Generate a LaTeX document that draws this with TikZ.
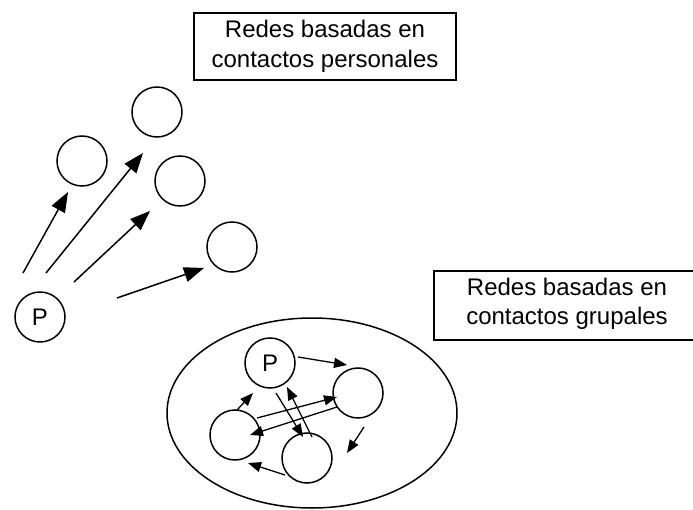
\documentclass[tikz,border=0pt]{standalone}
\usepackage{fontspec}
\setmainfont{Liberation Sans}
\usetikzlibrary{arrows.meta,shapes.geometric}
\begin{document}
\begin{tikzpicture}[x=1pt,y=-1pt,
  every node/.style={font=\fontsize{24}{29.5}\selectfont},
  pers/.style={draw,circle,line width=1.5pt,minimum size=50pt,inner sep=0pt},
  label box/.style={draw,line width=1.5pt,align=center,inner sep=0pt},
  bigarrow/.style={line width=1.5pt,-{Triangle[length=20pt,width=15pt]}},
  smallarrow/.style={line width=1.3pt,-{Triangle[length=13pt,width=10pt]}}]
\useasboundingbox (0,0) rectangle (693,510);
\clip (0,0) rectangle (693,510);
% labels
\node[label box,minimum width=262pt,minimum height=67pt] (lbl1) at (325,46.5) {Redes basadas en\\contactos personales};
\node[label box,minimum width=266pt,minimum height=69pt,anchor=west] (lbl2) at (433,305.5) {};
\node[align=center] (lbl2t) at (567,304) {Redes basadas en\\contactos grupales};
% personal contacts
\node[pers] (p) at (40,317) {P};
\node[pers] (a) at (82,161) {};
\node[pers] (b) at (157,112) {};
\node[pers] (c) at (180,181) {};
\node[pers] (d) at (232,247) {};
\coordinate (s1) at (23,273); \coordinate (e1) at (68,192);
\coordinate (s2) at (46,273); \coordinate (e2) at (143,153);
\coordinate (s3) at (74,282); \coordinate (e3) at (150,211);
\coordinate (s4) at (117,298); \coordinate (e4) at (204,268);
\draw[bigarrow] (s1) -- (e1);
\draw[bigarrow] (s2) -- (e2);
\draw[bigarrow] (s3) -- (e3);
\draw[bigarrow] (s4) -- (e4);
% group
\node[draw,ellipse,line width=1.5pt,minimum width=290pt,minimum height=190pt,inner sep=0pt] (grp) at (312,413) {};
\node[pers] (gp) at (270,363) {P};
\node[pers] (gr) at (358,393) {};
\node[pers] (gl) at (235,435) {};
\node[pers] (gb) at (307,458) {};
\coordinate (ga1) at (298,357); \coordinate (gb1) at (347,365);
\coordinate (ga2) at (364,427); \coordinate (gb2) at (347,453);
\coordinate (ga3) at (285,475); \coordinate (gb3) at (248,463);
\coordinate (ga4) at (237,410); \coordinate (gb4) at (253,393);
\coordinate (ga5) at (257,418); \coordinate (gb5) at (337,397);
\coordinate (ga6) at (337,407); \coordinate (gb6) at (250,435);
\coordinate (ga7) at (276,393); \coordinate (gb7) at (303,437);
\coordinate (ga8) at (312,437); \coordinate (gb8) at (287,387);
\foreach \i in {1,...,8} {\draw[smallarrow] (ga\i) -- (gb\i);}
\end{tikzpicture}
\end{document}
